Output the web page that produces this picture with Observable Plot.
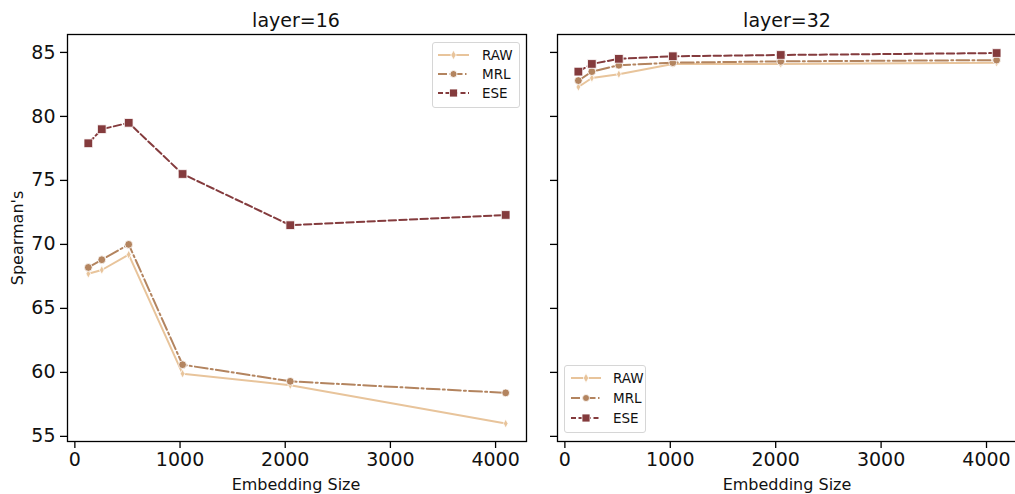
<!DOCTYPE html>
<html>
<head>
<meta charset="utf-8">
<script src="https://cdn.jsdelivr.net/npm/d3@7"></script>
<script src="https://cdn.jsdelivr.net/npm/@observablehq/plot@0.6"></script>
<style>
  html, body { margin: 0; padding: 0; background: #fff; }
  #wrap { position: relative; width: 1015px; height: 494px; overflow: hidden; font-family: "DejaVu Sans", sans-serif; color: #111; }
  .panel { position: absolute; top: 0; }
  .txt { position: absolute; white-space: nowrap; transform: translate(-50%, -50%); }
  .legend { position: absolute; border: 1px solid #d6d6d6; border-radius: 3px; background: rgba(255,255,255,0.85); font-size: 13.5px; }
  .legend .row { position: absolute; left: 0; width: 100%; }
  .legend svg { display: block; }
</style>
</head>
<body>
<div id="wrap"></div>
<script>
// ---- data ----
const sizes = [128, 256, 512, 1024, 2048, 4096];
const seriesNames = ["RAW", "MRL", "ESE"];
const layers = ["layer=16", "layer=32"];
const raw16 = [67.7, 68.0, 69.2, 59.9, 59.0, 56.0];
const mrl16 = [68.2, 68.8, 70.0, 60.6, 59.3, 58.4];
const ese16 = [77.9, 79.0, 79.5, 75.5, 71.5, 72.3];
const raw32 = [82.3, 83.0, 83.3, 84.1, 84.1, 84.2];
const mrl32 = [82.8, 83.5, 84.0, 84.2, 84.3, 84.4];
const ese32 = [83.5, 84.1, 84.5, 84.7, 84.8, 84.95];
const xTicks = [0, 1000, 2000, 3000, 4000];
const yTicks = [55, 60, 65, 70, 75, 80, 85];

// ---- styles ----
const colors = {RAW: "#e8c49b", MRL: "#b3845f", ESE: "#843b3d"};
const dashes = {RAW: null, MRL: "12.8,3.2,2,3.2", ESE: "7.4,3.2"};
const thinDiamond = {
  draw(ctx, size) {
    const r = Math.sqrt(size) / 2;
    ctx.moveTo(0, -r * 1.3);
    ctx.lineTo(r * 0.7, 0);
    ctx.lineTo(0, r * 1.3);
    ctx.lineTo(-r * 0.7, 0);
    ctx.closePath();
  }
};
const symbols = {RAW: thinDiamond, MRL: "circle", ESE: "square"};
const radii = {RAW: 3.8, MRL: 3.9, ESE: 4.9};

const panelData = [
  {RAW: raw16, MRL: mrl16, ESE: ese16},
  {RAW: raw32, MRL: mrl32, ESE: ese32}
];

const wrap = document.getElementById("wrap");

function makePanel(idx) {
  const d = panelData[idx];
  const marks = [];
  for (const s of seriesNames) {
    const rows = sizes.map((x, i) => ({x, y: d[s][i], s}));
    marks.push(Plot.line(rows, {x: "x", y: "y", stroke: colors[s], strokeWidth: 2, strokeDasharray: dashes[s]}));
  }
  for (const s of seriesNames) {
    const rows = sizes.map((x, i) => ({x, y: d[s][i], s}));
    marks.push(Plot.dot(rows, {x: "x", y: "y", fill: colors[s], stroke: "white", strokeWidth: 0.8, symbol: () => symbols[s], r: radii[s]}));
  }
  marks.push(Plot.frame({stroke: "#000", strokeWidth: 1.3}));
  marks.push(Plot.axisX({ticks: xTicks, tickSize: 7, tickPadding: 4, fontSize: 19, label: null, stroke: "#000", strokeWidth: 1.3,
    tickFormat: v => String(v)}));
  marks.push(Plot.axisY({ticks: yTicks, tickSize: 7, tickPadding: 5, fontSize: 19, label: null, stroke: "#000", strokeWidth: 1.3,
    tickFormat: idx === 0 ? (v => String(v)) : (() => "")}));
  const opts = idx === 0
    ? {width: 540, marginLeft: 67, marginRight: 14}
    : {width: 480, marginLeft: 17, marginRight: 3};
  const svg = Plot.plot({
    ...opts,
    height: 494,
    marginTop: 34,
    marginBottom: 53,
    x: {domain: [-70, 4294]},
    y: {domain: [54.6, 86.4]},
    style: {fontFamily: "DejaVu Sans, sans-serif", color: "#111", background: "transparent", overflow: "visible"},
    marks
  });
  svg.classList.add("panel");
  svg.style.left = (idx === 0 ? 0 : 540) + "px";
  wrap.appendChild(svg);
}
makePanel(0);
makePanel(1);

function addText(str, x, y, size, rotate) {
  const el = document.createElement("div");
  el.className = "txt";
  el.textContent = str;
  el.style.left = x + "px";
  el.style.top = y + "px";
  el.style.fontSize = size + "px";
  if (rotate) el.style.transform = "translate(-50%, -50%) rotate(-90deg)";
  wrap.appendChild(el);
}
addText(layers[0], 296, 20, 19);
addText(layers[1], 787, 20, 19);
addText("Embedding Size", 296, 484, 16);
addText("Embedding Size", 787, 484, 16);
addText("Spearman's", 17, 238, 16, true);

function addLegend(left, top, w, h, rowYs, swX0, swX1, txtX) {
  const box = document.createElement("div");
  box.className = "legend";
  box.style.left = left + "px";
  box.style.top = top + "px";
  box.style.width = w + "px";
  box.style.height = h + "px";
  seriesNames.forEach((s, i) => {
    const row = document.createElement("div");
    row.className = "row";
    row.style.top = (rowYs[i] - top - 9) + "px";
    row.style.height = "16px";
    const sw = swX1 - swX0;
    const ns = "http://www.w3.org/2000/svg";
    const svg = document.createElementNS(ns, "svg");
    svg.setAttribute("width", sw);
    svg.setAttribute("height", 16);
    svg.style.position = "absolute";
    svg.style.left = (swX0 - left) + "px";
    svg.style.top = "0px";
    const line = document.createElementNS(ns, "line");
    line.setAttribute("x1", 0); line.setAttribute("x2", sw);
    line.setAttribute("y1", 8); line.setAttribute("y2", 8);
    line.setAttribute("stroke", colors[s]); line.setAttribute("stroke-width", 2);
    if (dashes[s]) line.setAttribute("stroke-dasharray", s === "ESE" ? "5,2.5" : "9,2.5,1.5,2.5");
    svg.appendChild(line);
    const c = sw / 2;
    let m;
    if (s === "MRL") {
      m = document.createElementNS(ns, "circle");
      m.setAttribute("cx", c); m.setAttribute("cy", 8); m.setAttribute("r", 3.5);
    } else if (s === "ESE") {
      m = document.createElementNS(ns, "rect");
      m.setAttribute("x", c - 4); m.setAttribute("y", 4); m.setAttribute("width", 8); m.setAttribute("height", 8);
    } else {
      m = document.createElementNS(ns, "path");
      m.setAttribute("d", `M${c},3.2L${c + 2.7},8L${c},12.8L${c - 2.7},8Z`);
    }
    m.setAttribute("fill", colors[s]); m.setAttribute("stroke", "white"); m.setAttribute("stroke-width", 0.8);
    svg.appendChild(m);
    row.appendChild(svg);
    const t = document.createElement("div");
    t.textContent = s;
    t.style.position = "absolute";
    t.style.left = (txtX - left) + "px";
    t.style.top = "0px";
    t.style.lineHeight = "16px";
    row.appendChild(t);
    box.appendChild(row);
  });
  wrap.appendChild(box);
}
addLegend(432, 42, 86, 64, [55, 74, 93], 437, 468, 481);
addLegend(564, 365, 80, 66, [378, 398, 418], 570, 600, 612);
</script>
</body>
</html>
